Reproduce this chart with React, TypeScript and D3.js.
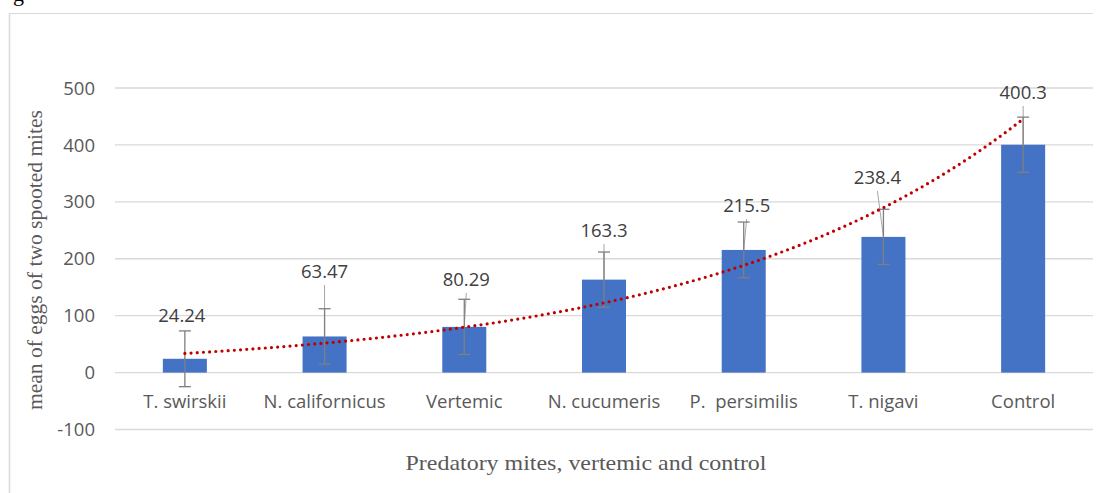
import React from "react";
import * as d3 from "d3";

const categories = ["T. swirskii", "N. californicus", "Vertemic", "N. cucumeris", "P.  persimilis", "T. nigavi", "Control"];
const means = [24.24, 63.47, 80.29, 163.3, 215.5, 238.4, 400.3];
const errors = [49, 48.7, 48.5, 48.5, 49, 48.5, 48.5];
const labelTexts = ["24.24", "63.47", "80.29", "163.3", "215.5", "238.4", "400.3"];
const yTicks = [-100, 0, 100, 200, 300, 400, 500];

// label placement (manually moved in the original)
const labelDx = [-3, 0, 2, 0, 3, -6, 0];
const labelBaseline = [322, 278, 286, 237, 212, 184, 99];

const W = 1105;
const H = 493;
const plotLeft = 115;
const plotRight = 1093;

export default function App() {
  const x = d3
    .scaleBand<string>()
    .domain(categories)
    .range([plotLeft, plotRight])
    .paddingInner(0.685)
    .paddingOuter(0.3425);
  const y = d3.scaleLinear().domain([-100, 500]).range([429.5, 88]);

  // Exponential trendline (least squares on ln y), as Excel does
  const xs = means.map((_, i) => i + 1);
  const lns = means.map((v) => Math.log(v));
  const mx = d3.mean(xs) as number;
  const ml = d3.mean(lns) as number;
  const b =
    d3.sum(xs.map((xi, i) => (xi - mx) * (lns[i] - ml))) /
    d3.sum(xs.map((xi) => (xi - mx) * (xi - mx)));
  const a = Math.exp(ml - b * mx);
  const step = x.step();
  const cx = (i: number) => (x(categories[i]) as number) + x.bandwidth() / 2;
  const pts: [number, number][] = [];
  for (let t = 1; t <= 7.0001; t += 0.05) {
    const px = cx(0) + (t - 1) * step;
    pts.push([px, y(a * Math.exp(b * t))]);
  }
  const line = d3.line();

  const sans = "'Open Sans', sans-serif";
  const serif = "'Liberation Serif', 'Times New Roman', serif";
  const textColor = "#595959";

  return (
    <svg
      width={W}
      height={H}
      style={{ position: "absolute", left: 0, top: 0, background: "#fff" }}
    >
      <text x={13} y={1} fontFamily={serif} fontSize={22} fill="#000">
        g
      </text>
      {/* frame */}
      <line x1={9} x2={plotRight} y1={13.5} y2={13.5} stroke="#D9D9D9" strokeWidth={1} />
      <line x1={9.5} x2={9.5} y1={13} y2={H} stroke="#D9D9D9" strokeWidth={1.5} />

      {/* gridlines */}
      {yTicks.map((t) => (
        <g key={t}>
          <line
            x1={plotLeft}
            x2={plotRight}
            y1={y(t)}
            y2={y(t)}
            stroke="#D9D9D9"
            strokeWidth={1.3}
          />
          <text
            x={95}
            y={y(t)}
            dy="0.36em"
            textAnchor="end"
            fontFamily={sans}
            fontSize={18.5}
            fill={textColor}
          >
            {t}
          </text>
        </g>
      ))}

      {/* bars */}
      {categories.map((c, i) => (
        <rect
          key={c}
          x={x(c)}
          y={y(Math.max(0, means[i]))}
          width={x.bandwidth()}
          height={Math.abs(y(means[i]) - y(0))}
          fill="#4472C4"
        />
      ))}

      {/* leader lines */}
      {categories.map((c, i) => {
        const top = y(means[i]);
        const lx = cx(i) + labelDx[i];
        const ly = labelBaseline[i] + 7;
        if (top - ly < 30) return null;
        return (
          <line
            key={"ld" + c}
            x1={lx}
            y1={ly}
            x2={cx(i)}
            y2={top}
            stroke="#A6A6A6"
            strokeWidth={1}
          />
        );
      })}

      {/* error bars */}
      {categories.map((c, i) => {
        const xc = cx(i);
        const hi = y(means[i] + errors[i]);
        const lo = y(means[i] - errors[i]);
        return (
          <g key={"e" + c} stroke="#7F7F7F" strokeWidth={1.3}>
            <line x1={xc} x2={xc} y1={hi} y2={lo} />
            <line x1={xc - 6} x2={xc + 6} y1={hi} y2={hi} />
            <line x1={xc - 6} x2={xc + 6} y1={lo} y2={lo} />
          </g>
        );
      })}

      {/* trendline */}
      <path
        d={line(pts) as string}
        fill="none"
        stroke="#C00000"
        strokeWidth={3.2}
        strokeDasharray="0 6.2"
        strokeLinecap="round"
      />

      {/* data labels */}
      {categories.map((c, i) => (
        <text
          key={"l" + c}
          x={cx(i) + labelDx[i]}
          y={labelBaseline[i]}
          textAnchor="middle"
          fontFamily={sans}
          fontSize={18.5}
          fill="#404040"
        >
          {labelTexts[i]}
        </text>
      ))}

      {/* category labels */}
      {categories.map((c, i) => (
        <text
          key={"c" + c}
          x={cx(i)}
          y={407.5}
          textAnchor="middle"
          fontFamily={sans}
          fontSize={18.5}
          fill={textColor}
          style={{ whiteSpace: "pre" }}
        >
          {c}
        </text>
      ))}

      {/* axis titles */}
      <text
        transform={`translate(42, 260) rotate(-90)`}
        textAnchor="middle"
        fontFamily={serif}
        fontSize={21}
        fill={textColor}
        textLength={300}
        lengthAdjust="spacingAndGlyphs"
      >
        mean of eggs of two spooted mites
      </text>
      <text
        x={586}
        y={470}
        textAnchor="middle"
        fontFamily={serif}
        fontSize={21.5}
        fill={textColor}
        textLength={361}
        lengthAdjust="spacingAndGlyphs"
      >
        Predatory mites, vertemic and control
      </text>
    </svg>
  );
}
